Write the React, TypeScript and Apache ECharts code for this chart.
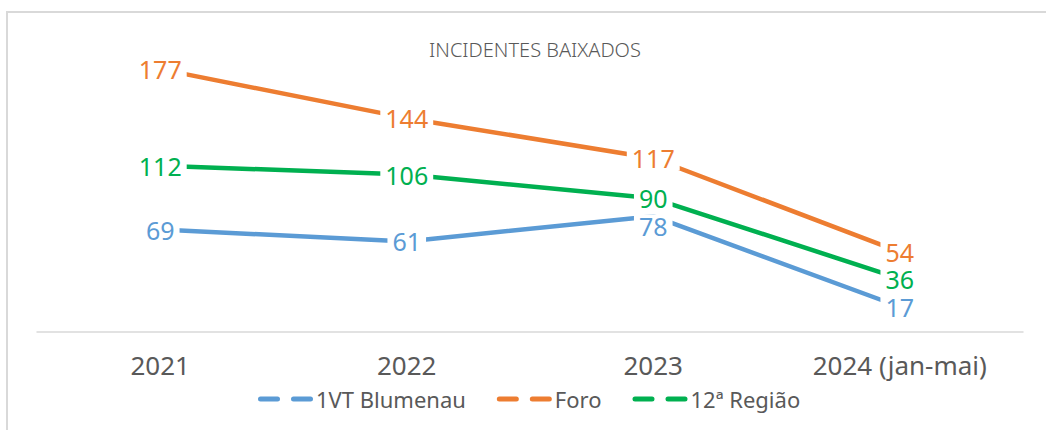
import React, { useEffect, useRef } from "react";
import * as echarts from "echarts";

const title = "INCIDENTES BAIXADOS";
const categories = ["2021", "2022", "2023", "2024 (jan-mai)"];
const seriesNames = ["1VT Blumenau", "Foro", "12ª Região"];
const blumenau = [69, 61, 78, 17];
const foro = [177, 144, 117, 54];
const regiao = [112, 106, 90, 36];
const colors = ["#5B9BD5", "#ED7D31", "#00B050"];

const FONT = "'Noto Sans', 'Open Sans', sans-serif";
const legendIcon =
  "path://M2.5,0H19.5A2.5,2.5,0,0,1,19.5,5H2.5A2.5,2.5,0,0,1,2.5,0Z M35.5,0H52.5A2.5,2.5,0,0,1,52.5,5H35.5A2.5,2.5,0,0,1,35.5,0Z";

export default function App() {
  const ref = useRef<HTMLDivElement>(null);
  useEffect(() => {
    if (!ref.current) return;
    const chart = echarts.init(ref.current, null, { renderer: "svg" });
    const values = [blumenau, foro, regiao];
    const mkLabel = (color: string) => ({
      show: true,
      position: "inside",
      color,
      fontFamily: FONT,
      fontSize: 25,
      backgroundColor: "#ffffff",
      padding: [0, 5],
      lineHeight: 24,
    });
    chart.setOption({
      animation: false,
      backgroundColor: "#ffffff",
      title: {
        text: title,
        left: 530,
        top: 34,
        textAlign: "center",
        textStyle: {
          fontFamily: FONT,
          fontSize: 20,
          fontWeight: 300,
          color: "#595959",
        },
      },
      graphic: [
        {
          type: "rect",
          shape: { x: 7, y: 12, width: 1100, height: 500 },
          style: { fill: "none", stroke: "#d9d9d9", lineWidth: 2 },
          silent: true,
          z: -10,
        },
      ],
      legend: {
        left: 253,
        top: 383,
        itemWidth: 55,
        itemHeight: 5,
        itemGap: 31,
        icon: legendIcon,
        textStyle: { fontFamily: FONT, fontSize: 22, color: "#595959", padding: [0, 0, 0, -2] },
        data: seriesNames.map((name, i) => ({
          name,
          icon: legendIcon,
          itemStyle: { color: colors[i], opacity: 1 },
        })),
      },
      grid: { left: 37, right: 23, top: 35, bottom: 98 },
      xAxis: {
        type: "category",
        data: categories,
        boundaryGap: true,
        axisLine: { lineStyle: { color: "#d9d9d9", width: 1.5 } },
        axisTick: { show: false },
        axisLabel: { fontFamily: FONT, fontSize: 26, color: "#595959", margin: 20 },
        splitLine: { show: false },
      },
      yAxis: {
        type: "value",
        min: 0,
        max: 200,
        show: false,
        splitLine: { show: false },
      },
      series: seriesNames.map((name, si) => ({
        name,
        type: "line",
        symbol: "circle",
        symbolSize: 1,
        showSymbol: true,
        color: colors[si],
        itemStyle: { color: "rgba(0,0,0,0)", borderWidth: 0 },
        lineStyle: { color: colors[si], width: 4.5 },
        label: mkLabel(colors[si]),
        data: values[si].map((v, i) =>
          si === 0 && i === 2 ? { value: v, label: { offset: [0, 10] } } : v
        ),
      })),
    });
    return () => chart.dispose();
  }, []);
  return (
    <div
      ref={ref}
      style={{ position: "fixed", left: 0, top: 0, width: 1046, height: 430 }}
    />
  );
}
